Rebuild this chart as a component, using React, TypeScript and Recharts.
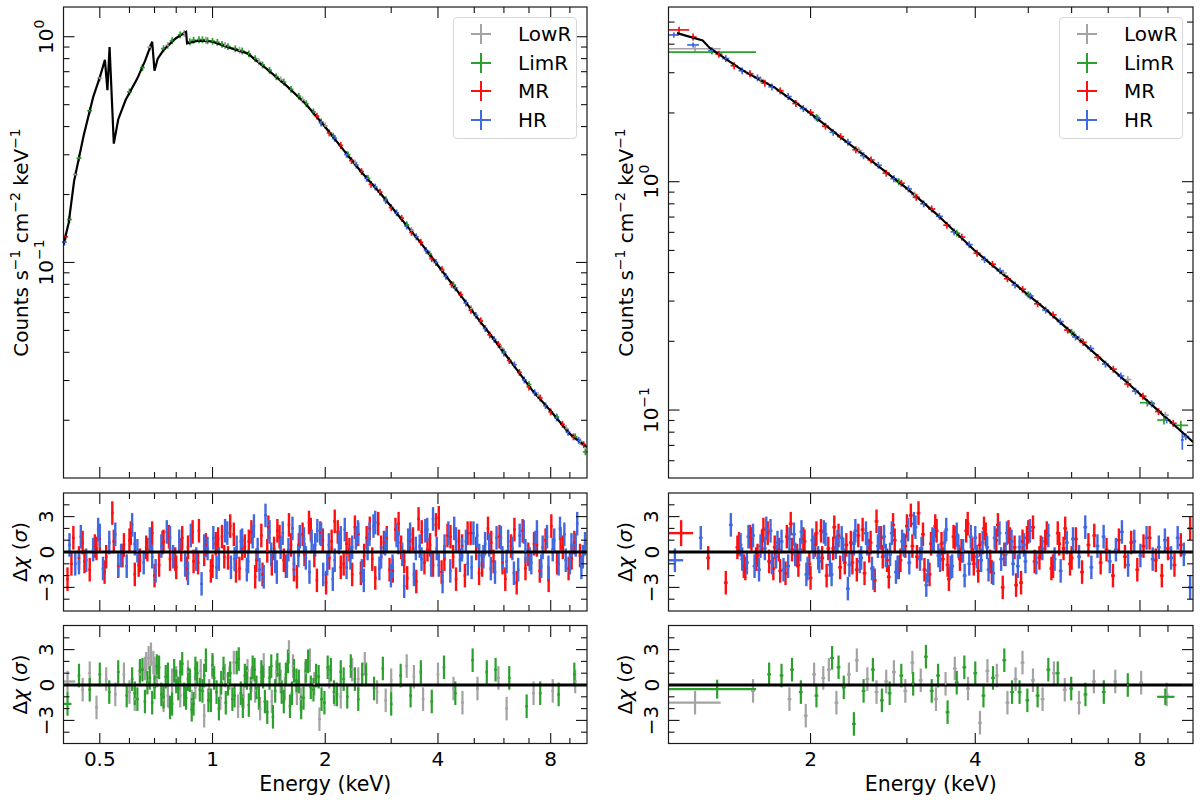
import React from "react";
import { ComposedChart, Scatter, Line, XAxis, YAxis, ErrorBar } from "recharts";

const GREY = "#a3a3a3";
const GREEN = "#2ca02c";
const RED = "#ff1010";
const BLUE = "#4169e1";
const FONT = "DejaVu Sans, Liberation Sans, sans-serif";

// ---------- model curves ----------
const leftModelE = [0.4, 0.402, 0.413, 0.427, 0.453, 0.48, 0.5, 0.516, 0.524, 0.531, 0.545, 0.56, 0.586, 0.63, 0.66, 0.69, 0.7, 0.714, 0.74, 0.795, 0.85, 0.855, 0.91, 0.95, 1.0, 1.12, 1.24, 1.39, 1.57, 1.77, 2.0, 2.22, 2.5, 2.81, 3.16, 3.56, 4.0, 4.5, 5.05, 5.68, 6.37, 7.16, 8.0, 9.0, 10.0];
const leftModelF = [0.12, 0.124, 0.15, 0.23, 0.366, 0.54, 0.66, 0.79, 0.58, 0.9, 0.336, 0.43, 0.524, 0.654, 0.78, 0.95, 0.707, 0.8, 0.873, 0.98, 1.05, 0.934, 0.957, 0.96, 0.95, 0.89, 0.844, 0.724, 0.61, 0.506, 0.398, 0.32, 0.251, 0.202, 0.159, 0.125, 0.097, 0.075, 0.058, 0.045, 0.035, 0.027, 0.022, 0.0174, 0.0152];

const rightModelE = [1.14, 1.27, 1.31, 1.5, 1.725, 2.0, 2.28, 2.62, 3.0, 3.39, 3.98, 4.6, 5.4, 6.4, 7.55, 8.6, 9.76, 10.0];
const rightModelF = [4.47, 4.15, 3.84, 3.08, 2.57, 1.99, 1.55, 1.204, 0.935, 0.725, 0.502, 0.376, 0.274, 0.19, 0.133, 0.1004, 0.0764, 0.0725];

// ---------- left spectrum points ----------
const ltGreenE = [0.415, 0.44, 0.47, 0.6, 0.65, 0.74, 0.78, 0.82, 0.87, 0.89, 0.92, 0.94, 0.97, 1.0, 1.03, 1.06, 1.1, 1.15, 1.2, 1.25, 1.3, 1.36, 1.42, 1.48, 1.55, 1.62, 1.7, 1.78, 1.86, 1.95, 2.1, 2.3, 2.6, 2.9, 3.3, 3.8, 4.4, 5.2, 6.0, 7.0, 8.3, 9.3, 9.9];
const ltGreenF = [0.155, 0.29, 0.47, 0.57, 0.73, 0.885, 0.96, 1.02, 0.95, 0.965, 0.97, 0.97, 0.96, 0.955, 0.945, 0.925, 0.905, 0.885, 0.865, 0.84, 0.8, 0.75, 0.71, 0.665, 0.63, 0.585, 0.545, 0.505, 0.465, 0.42, 0.363, 0.3, 0.236, 0.19, 0.147, 0.109, 0.0795, 0.0552, 0.0402, 0.0288, 0.0207, 0.0169, 0.0145];
const ltGreyE = [0.43, 0.5, 0.68, 0.76, 0.84, 0.96, 1.08, 1.18, 1.33, 1.52, 1.74, 2.0, 2.4, 2.8, 3.4, 4.1, 4.9, 5.9, 7.4, 8.8, 9.6];
const ltGreyF = [0.245, 0.655, 0.9, 0.915, 1.035, 0.965, 0.915, 0.872, 0.775, 0.645, 0.525, 0.403, 0.276, 0.205, 0.139, 0.0925, 0.0625, 0.0418, 0.0257, 0.0184, 0.0161];
const ltRedE = [0.405, 1.9, 2.05, 2.2, 2.35, 2.5, 2.65, 2.8, 3.0, 3.2, 3.4, 3.6, 3.85, 4.1, 4.35, 4.6, 4.9, 5.2, 5.5, 5.8, 6.2, 6.6, 7.0, 7.5, 8.0, 8.6, 9.2, 9.8];
const ltRedF = [0.13, 0.445, 0.375, 0.33, 0.283, 0.253, 0.222, 0.205, 0.175, 0.157, 0.136, 0.123, 0.104, 0.093, 0.08, 0.072, 0.0615, 0.055, 0.0478, 0.0434, 0.0368, 0.0326, 0.0281, 0.0251, 0.0218, 0.0192, 0.0169, 0.0156];
const ltBlueE = [0.402, 1.95, 2.12, 2.28, 2.42, 2.58, 2.72, 2.9, 3.1, 3.3, 3.5, 3.72, 3.95, 4.2, 4.45, 4.75, 5.05, 5.35, 5.65, 6.0, 6.4, 6.8, 7.25, 7.75, 8.3, 8.9, 9.5];
const ltBlueF = [0.123, 0.415, 0.355, 0.301, 0.27, 0.236, 0.216, 0.188, 0.166, 0.145, 0.13, 0.113, 0.1, 0.0868, 0.0772, 0.0662, 0.0583, 0.051, 0.0457, 0.0397, 0.0352, 0.0302, 0.0265, 0.0232, 0.0205, 0.0177, 0.0163];

// ---------- right spectrum points ----------
const rtRedE = [1.22, 1.36, 1.45, 1.55, 1.65, 1.76, 1.88, 2.0, 2.13, 2.27, 2.42, 2.58, 2.75, 2.93, 3.12, 3.33, 3.55, 3.78, 4.03, 4.3, 4.58, 4.88, 5.2, 5.55, 5.9, 6.3, 6.7, 7.15, 7.6, 8.1, 8.65, 9.2];
const rtRedF = [4.3, 3.62, 3.22, 2.97, 2.7, 2.5, 2.2, 2.01, 1.75, 1.575, 1.38, 1.245, 1.09, 0.985, 0.855, 0.76, 0.645, 0.572, 0.486, 0.435, 0.376, 0.338, 0.292, 0.261, 0.224, 0.198, 0.17, 0.151, 0.13, 0.115, 0.0985, 0.0875];
const rtBlueE = [1.32, 1.4, 1.5, 1.6, 1.7, 1.82, 1.94, 2.06, 2.2, 2.34, 2.5, 2.66, 2.84, 3.02, 3.22, 3.44, 3.66, 3.9, 4.16, 4.44, 4.73, 5.04, 5.38, 5.72, 6.1, 6.5, 6.92, 7.38, 7.85, 8.4, 8.95, 9.7];
const rtBlueF = [3.75, 3.46, 3.06, 2.85, 2.6, 2.36, 2.09, 1.89, 1.645, 1.49, 1.3, 1.18, 1.03, 0.93, 0.8, 0.705, 0.603, 0.53, 0.456, 0.407, 0.353, 0.316, 0.274, 0.244, 0.209, 0.186, 0.159, 0.141, 0.121, 0.1065, 0.0905, 0.0765];
const rtGreyE = [1.62, 2.45, 3.1, 4.5, 6.2, 7.6, 8.9];
const rtGreyF = [2.8, 1.37, 0.875, 0.398, 0.205, 0.136, 0.095];
const rtGreenE = [2.05, 2.9, 3.7, 5.0, 6.0];
const rtGreenF = [1.91, 1.0, 0.595, 0.32, 0.219];
const rtWide = [
  { c: "MR", x: 1.15, lo: 1.1, hi: 1.2, y: 4.62, err: 0.15 },
  { c: "HR", x: 1.125, lo: 1.1, hi: 1.15, y: 4.39, err: 0.12 },
  { c: "HR", x: 1.22, lo: 1.19, hi: 1.25, y: 3.97, err: 0.1 },
  { c: "LowR", x: 1.23, lo: 1.1, hi: 1.37, y: 3.82, err: 0.1 },
  { c: "LimR", x: 1.32, lo: 1.1, hi: 1.59, y: 3.69, err: 0.08 },
  { c: "LimR", x: 8.25, lo: 8.0, hi: 8.5, y: 0.1077, err: 0.004 },
  { c: "LimR", x: 8.85, lo: 8.6, hi: 9.1, y: 0.0904, err: 0.004 },
  { c: "LimR", x: 9.5, lo: 9.2, hi: 9.8, y: 0.0857, err: 0.004 },
  { c: "HR", x: 9.56, lo: 9.5, hi: 9.62, y: 0.074, err: 0.007 },
];

// ---------- residuals, MR / HR (left) ----------
const lmRedE = [0.41, 0.42, 0.44, 0.45, 0.47, 0.49, 0.5, 0.52, 0.54, 0.56, 0.58, 0.6, 0.62, 0.64, 0.67, 0.69, 0.72, 0.74, 0.77, 0.8, 0.83, 0.86, 0.89, 0.92, 0.95, 0.99, 1.02, 1.06, 1.1, 1.14, 1.18, 1.22, 1.27, 1.31, 1.36, 1.41, 1.46, 1.51, 1.57, 1.62, 1.68, 1.74, 1.81, 1.87, 1.94, 2.01, 2.08, 2.16, 2.24, 2.32, 2.4, 2.49, 2.58, 2.67, 2.77, 2.87, 2.97, 3.08, 3.19, 3.31, 3.43, 3.55, 3.68, 3.81, 3.95, 4.09, 4.24, 4.39, 4.55, 4.72, 4.89, 5.06, 5.25, 5.44, 5.63, 5.84, 6.05, 6.27, 6.49, 6.73, 6.97, 7.22, 7.48, 7.75, 8.03, 8.32, 8.62, 8.93, 9.25, 9.58];
const lmRedR = [-2.3, -1.0, -0.5, 0.8, -1.5, 0.3, 1.1, -0.4, 3.3, -1.2, 0.6, 1.0, -1.9, -0.7, 0.2, 1.6, -1.1, 0.9, -0.6, -1.3, 1.2, 0.4, -0.8, 1.8, -0.2, -1.6, 0.7, 1.3, -0.5, 1.5, -1.4, 0.5, 1.7, -0.7, -1.9, 2.1, 0.3, 1.3, -1.2, 0.6, -2.1, 1.5, 2.5, -0.3, 1.6, -2.6, 0.9, 1.7, -1.0, 0.2, 2.1, -1.8, 1.2, -0.6, 2.4, 0.8, -1.5, 1.9, 0.4, -2.2, 1.1, 2.8, -0.9, 0.6, 2.3, -1.7, 1.4, -0.4, 0.9, -2.0, 1.6, 0.3, -1.1, 2.0, -0.8, 1.3, -2.3, 0.5, -2.6, 1.8, -0.2, 0.7, -1.6, 1.0, 2.2, -0.9, 0.4, -1.4, 0.8, -0.3];
const lmRedE2 = [0.425, 0.455, 0.485, 0.515, 0.545, 0.575, 0.605, 0.635, 0.665, 0.7, 0.735, 0.765, 0.795, 0.825, 0.855, 0.885, 0.915, 0.96, 1.0, 1.035, 1.075, 1.115, 1.155, 1.2, 1.25, 1.3, 1.35, 1.4, 1.44, 1.49, 1.55, 1.6, 1.65, 1.7, 1.76, 1.83, 1.9, 1.97, 2.05, 2.12, 2.2, 2.28, 2.36, 2.45, 2.54, 2.63, 2.72, 2.82, 2.92, 3.03, 3.14, 3.25, 3.37, 3.5, 3.62, 3.75, 3.88, 4.02, 4.16, 4.32, 4.47, 4.64, 4.8, 5.15, 5.55, 5.95, 6.4, 6.85, 7.35, 7.9, 8.5, 9.1];
const lmRedR2 = [1.2, -0.8, 0.5, -1.7, 0.9, -0.3, 1.6, -1.1, 0.4, -2.0, 0.8, 1.3, -0.6, 0.2, -1.4, 1.7, -0.9, 0.6, -1.2, 1.1, -0.4, 2.2, -1.6, 0.3, 0.9, -2.1, 1.4, 0.1, -1.0, 1.8, -0.7, 2.3, -1.5, 0.6, -0.2, 1.9, -2.4, 1.0, -0.5, 2.6, -1.3, 0.7, -1.9, 1.5, -0.3, 2.0, -2.2, 0.4, 1.2, -1.6, 2.4, -0.8, 0.9, -2.5, 1.7, 0.2, -1.1, 2.9, -0.6, 1.3, -2.3, 0.5, 1.6, -1.8, 0.8, -0.9, 1.9, -1.4, 0.6, -2.4, 1.1, -0.5];
const lmBlueE = [0.415, 0.43, 0.445, 0.46, 0.48, 0.495, 0.51, 0.53, 0.55, 0.57, 0.59, 0.61, 0.63, 0.655, 0.68, 0.705, 0.73, 0.755, 0.785, 0.815, 0.845, 0.875, 0.905, 0.935, 0.97, 1.005, 1.04, 1.08, 1.12, 1.16, 1.2, 1.245, 1.29, 1.335, 1.385, 1.435, 1.485, 1.54, 1.595, 1.65, 1.71, 1.775, 1.84, 1.905, 1.975, 2.045, 2.12, 2.2, 2.28, 2.36, 2.445, 2.535, 2.625, 2.72, 2.82, 2.92, 3.025, 3.135, 3.25, 3.37, 3.49, 3.615, 3.745, 3.88, 4.02, 4.165, 4.315, 4.47, 4.635, 4.805, 4.975, 5.155, 5.345, 5.535, 5.735, 5.945, 6.16, 6.38, 6.61, 6.85, 7.1, 7.35, 7.615, 7.89, 8.175, 8.47, 8.775, 9.09, 9.415, 9.75];
const lmBlueR = [0.6, -1.0, 1.3, -0.7, 0.2, 1.9, -1.4, 0.8, 1.5, -0.3, -1.2, 2.3, 0.1, -0.9, 1.1, -1.6, 0.5, 1.7, -0.4, 0.9, -1.1, 1.4, -0.6, -2.7, 0.3, 1.2, -0.6, 1.8, -1.3, 0.4, 1.0, -0.8, 2.2, -1.5, 3.1, -0.2, -1.7, 1.6, 0.2, -1.0, 1.3, -0.5, 0.9, 1.8, -1.9, 0.6, -0.7, 1.2, -1.3, 0.4, 1.7, -2.4, 1.5, 2.5, -0.4, 1.0, -1.2, 0.8, -2.9, 1.5, 0.3, -0.6, 1.9, 2.8, -1.1, 0.5, -1.6, 1.1, 0.2, -1.0, 1.6, -0.3, 0.7, -1.4, 1.2, -0.5, 0.9, -1.8, 1.4, 0.1, -0.9, 1.7, 0.4, -1.3, 1.0, 2.0, -0.7, 0.6, 2.4, -0.4];
const lmBlueE2 = [0.44, 0.5, 0.56, 0.62, 0.69, 0.77, 0.86, 0.95, 1.025, 1.095, 1.145, 1.19, 1.235, 1.28, 1.32, 1.37, 1.42, 1.47, 1.52, 1.58, 1.635, 1.695, 1.755, 1.815, 1.88, 1.95, 2.025, 2.095, 2.175, 2.255, 2.335, 2.415, 2.505, 2.595, 2.69, 2.79, 2.89, 2.995, 3.1, 3.21, 3.33, 3.45, 3.575, 3.7, 3.835, 3.97, 4.115, 4.265, 4.42, 4.58, 4.75, 4.92, 5.09, 5.29, 5.48, 5.68, 5.89, 6.1, 6.32, 6.55, 6.78, 7.03, 7.28, 7.55, 7.82, 8.1, 8.4, 8.7, 9.0, 9.33, 9.66, 9.88];
const lmBlueR2 = [-0.9, 1.4, -1.1, 0.7, -0.4, 1.2, -1.8, 0.5, -1.3, 1.6, -0.6, 0.9, -1.5, 1.3, 0.2, -2.1, 1.7, -0.8, 0.4, -1.2, 2.0, -0.3, 1.1, -1.7, 0.6, 1.5, -1.0, -2.3, 0.8, 1.9, -0.5, 1.2, -1.6, 0.3, 2.2, -1.4, 0.7, -2.0, 1.4, -0.2, 1.0, -1.9, 0.5, 1.8, -1.1, 0.3, -2.5, 1.6, 2.0, -0.7, 0.9, -1.3, 1.4, -0.4, 0.6, -1.7, 1.2, -0.8, 0.3, -1.5, 1.7, -0.6, 0.8, -1.2, 1.3, 0.2, -1.0, 1.5, -0.9, 0.6, -1.3, 0.7];

// ---------- residuals, MR / HR (right) ----------
const rmRedE = [1.3, 1.4, 1.47, 1.51, 1.55, 1.59, 1.63, 1.67, 1.71, 1.75, 1.8, 1.84, 1.89, 1.94, 1.99, 2.04, 2.09, 2.14, 2.2, 2.25, 2.31, 2.37, 2.43, 2.49, 2.56, 2.62, 2.69, 2.76, 2.83, 2.9, 2.98, 3.05, 3.13, 3.21, 3.3, 3.38, 3.47, 3.56, 3.65, 3.75, 3.85, 3.95, 4.05, 4.15, 4.26, 4.37, 4.49, 4.6, 4.72, 4.85, 4.97, 5.1, 5.24, 5.37, 5.51, 5.66, 5.8, 5.96, 6.11, 6.27, 6.44, 6.6, 6.78, 6.95, 7.14, 7.32, 7.51, 7.71, 7.91, 8.12, 8.33, 8.55, 8.77, 9.0, 9.25, 9.5, 9.88];
const rmRedR = [-0.5, -2.6, 0.4, -1.2, 1.3, -0.6, 0.9, 1.6, -1.4, 0.2, -1.8, 2.4, -0.3, 1.1, -1.0, 0.6, 1.8, -2.0, 0.3, 1.4, -0.9, 0.8, -1.5, 1.9, 0.1, -2.4, 1.2, -0.7, 2.3, -1.3, 0.5, 3.1, -0.4, 1.5, -1.9, 2.2, 0.7, -1.1, 1.3, -0.6, 1.8, 0.2, -1.6, 2.0, -0.8, 1.0, -3.0, 1.7, 0.4, -2.6, 1.2, 2.1, -0.5, 0.9, -1.4, 1.6, 0.3, -1.0, 1.1, -1.7, 0.6, 1.4, -0.9, 0.2, -2.0, 1.0, -0.4, 0.8, -1.5, 0.5, 1.2, -0.7, -2.0, 0.3, -1.1, 0.6, 2.0];
const rmRedE2 = [1.48, 1.52, 1.56, 1.6, 1.64, 1.68, 1.72, 1.76, 1.81, 1.85, 1.9, 1.95, 2.0, 2.05, 2.1, 2.155, 2.21, 2.265, 2.325, 2.385, 2.445, 2.51, 2.575, 2.64, 2.71, 2.78, 2.85, 2.92, 3.0, 3.07, 3.15, 3.23, 3.32, 3.4, 3.49, 3.58, 3.675, 3.775, 3.875, 3.975, 4.075, 4.18, 4.29, 4.4, 4.52, 4.63, 4.75, 4.88, 5.0, 5.135, 5.27, 5.405, 5.55, 5.695, 5.84, 6.0];
const rmRedR2 = [0.7, -1.4, 1.1, -0.3, 1.9, -0.8, 0.4, -1.6, 1.3, 0.2, -1.1, 0.9, -2.2, 1.6, -0.5, 0.3, 2.1, -1.3, 0.6, -0.9, 1.4, -1.8, 0.8, 2.6, -0.4, -2.1, 1.0, -0.7, 2.2, 0.5, 3.3, -1.5, 0.7, 1.8, -0.6, -2.3, 1.2, 0.1, 2.4, -1.0, 0.6, 1.5, -1.7, 2.3, -0.2, 1.1, -2.8, 0.9, 1.7, -0.8, 0.4, 1.6, -1.2, 0.7, 2.0, -0.5];
const rmBlueE = [1.26, 1.43, 1.49, 1.53, 1.57, 1.61, 1.65, 1.69, 1.73, 1.77, 1.82, 1.865, 1.915, 1.965, 2.015, 2.065, 2.115, 2.17, 2.225, 2.28, 2.34, 2.4, 2.46, 2.525, 2.59, 2.655, 2.725, 2.795, 2.865, 2.94, 3.015, 3.09, 3.17, 3.255, 3.34, 3.425, 3.515, 3.605, 3.7, 3.8, 3.9, 4.0, 4.1, 4.205, 4.315, 4.43, 4.545, 4.66, 4.785, 4.91, 5.035, 5.17, 5.305, 5.44, 5.585, 5.73, 5.88, 6.035, 6.19, 6.355, 6.52, 6.69, 6.865, 7.045, 7.23, 7.415, 7.61, 7.81, 8.015, 8.225, 8.44, 8.66, 8.885, 9.12, 9.375, 9.62, 9.88];
const rmBlueR = [1.2, 2.3, 0.6, -0.9, 1.4, -1.5, 0.3, 1.8, -0.4, 0.9, -1.2, 1.5, 0.2, -1.9, 1.0, -0.5, 1.7, -1.1, 0.4, 1.2, -3.1, 0.7, -0.8, 1.6, -1.4, 0.5, 1.3, -0.2, -1.7, 0.9, 1.9, 2.4, -0.6, -2.8, 1.1, -0.3, 0.8, -1.3, 1.5, 0.1, -1.0, 1.2, -0.7, 0.4, -1.8, 1.6, -0.2, 0.9, -1.2, 0.6, 1.8, -0.9, 0.3, 1.4, -0.6, -1.6, 0.8, 1.1, -0.4, 2.1, -1.3, 0.5, 1.3, -0.8, 0.2, 1.7, -1.1, 0.9, -0.3, 1.2, -0.6, 0.4, 1.0, -0.5, 1.2, -0.2, -3.0];
const rmBlueE2 = [1.5, 1.54, 1.58, 1.62, 1.66, 1.7, 1.74, 1.785, 1.83, 1.875, 1.925, 1.975, 2.025, 2.075, 2.13, 2.185, 2.24, 2.295, 2.355, 2.415, 2.475, 2.54, 2.605, 2.67, 2.745, 2.815, 2.885, 2.96, 3.03, 3.11, 3.19, 3.28, 3.36, 3.45, 3.54, 3.63, 3.725, 3.825, 3.925, 4.025, 4.125, 4.23, 4.34, 4.46, 4.57, 4.69, 4.82, 4.94];
const rmBlueR2 = [-0.6, 1.3, -1.2, 0.5, 2.0, -0.9, 0.8, -1.5, 1.1, -0.2, 1.7, -1.4, 0.4, -0.8, 1.5, -1.9, 0.9, 0.2, -1.1, 1.8, -0.5, 0.7, -2.2, 1.2, -0.3, 1.6, -1.3, 0.6, -0.9, 2.1, 0.3, -1.6, 1.0, -0.7, 1.9, -1.2, 0.5, -2.0, 1.3, -0.4, 0.8, -1.5, 1.2, -0.6, 1.6, -1.0, 0.4, -0.8];
const rmWide = [
  { c: "MR", x: 1.16, lo: 1.1, hi: 1.22, y: 1.6, err: 1.1 },
  { c: "HR", x: 1.13, lo: 1.1, hi: 1.17, y: -0.7, err: 1.0 },
];

// ---------- residuals, LowR / LimR (left) ----------
const lbGreenE = [0.44, 0.47, 0.5, 0.53, 0.56, 0.59, 0.61, 0.63, 0.65, 0.67, 0.69, 0.71, 0.73, 0.75, 0.77, 0.79, 0.81, 0.83, 0.85, 0.87, 0.89, 0.91, 0.94, 0.96, 0.99, 1.01, 1.04, 1.07, 1.1, 1.13, 1.16, 1.19, 1.22, 1.25, 1.28, 1.31, 1.35, 1.38, 1.42, 1.45, 1.49, 1.53, 1.57, 1.61, 1.65, 1.7, 1.75, 1.8, 1.86, 1.92, 1.99, 2.07, 2.15, 2.24, 2.34, 2.45, 2.57, 2.7, 2.85, 3.0, 3.18, 3.38, 3.6, 3.85, 4.15, 4.45, 4.95, 5.4, 5.7, 6.2, 6.9, 7.5, 8.4, 9.25];
const lbGreenR = [0.8, -0.4, 0.9, -0.6, 1.1, -0.9, 0.5, -1.2, 1.3, 0.2, -1.5, 1.6, -0.8, 0.7, -1.9, 1.2, -0.3, 1.8, -1.1, 0.4, -1.6, 1.0, -0.5, 2.1, -1.3, 0.6, -2.0, 1.4, 0.1, -1.2, 1.9, -0.7, 0.8, -1.7, 1.5, -0.2, 1.1, -1.4, 0.6, -2.7, 1.7, -0.6, 0.9, -1.8, 1.2, 0.3, -1.1, 2.0, -0.4, 0.7, -1.5, 1.3, -0.8, 0.5, 1.6, -1.2, 0.9, -0.3, 1.4, -1.6, 0.8, -0.9, 1.1, -1.4, 1.5, -0.7, 2.1, 1.1, 1.3, 0.6, -1.8, -0.7, -0.8, 0.9];
const lbGreenE2 = [0.62, 0.64, 0.66, 0.68, 0.7, 0.72, 0.74, 0.76, 0.78, 0.8, 0.82, 0.84, 0.86, 0.88, 0.9, 0.925, 0.95, 0.975, 1.0, 1.025, 1.055, 1.085, 1.115, 1.145, 1.175, 1.205, 1.235, 1.265, 1.295, 1.33, 1.365, 1.4, 1.435, 1.47, 1.51, 1.55, 1.59, 1.63, 1.675, 1.725, 1.775, 1.83, 1.89, 1.955, 2.03, 2.11, 2.2, 2.29, 2.4, 2.51];
const lbGreenR2 = [-0.7, 1.2, -1.4, 0.6, -0.2, 1.5, -1.0, 0.9, -1.6, 0.3, 1.1, -0.8, 0.5, -2.1, 1.4, -0.4, 0.8, -1.3, 1.7, -0.6, 0.2, -1.5, 1.0, -0.9, 2.2, -1.8, 0.6, -0.3, 1.3, -1.1, 0.7, -2.3, 1.6, -0.5, 0.9, -1.4, 2.0, -0.7, 0.4, -1.9, 1.2, -0.2, 0.8, -1.2, 1.5, -0.6, 1.1, -1.0, 0.5, 0.9];
const lbGreyE = [0.45, 0.49, 0.52, 0.55, 0.58, 0.62, 0.66, 0.675, 0.685, 0.695, 0.71, 0.74, 0.78, 0.82, 0.86, 0.9, 0.95, 1.0, 1.05, 1.11, 1.17, 1.24, 1.3, 1.37, 1.44, 1.52, 1.6, 1.68, 1.77, 1.87, 1.93, 2.05, 2.2, 2.36, 2.55, 2.75, 3.0, 3.3, 3.65, 4.0, 4.4, 4.65, 5.1, 5.8, 6.1, 7.2, 8.1, 9.3];
const lbGreyR = [-0.4, -1.9, 0.5, -0.8, 0.9, -1.2, 1.4, 2.3, 2.6, 1.9, 0.8, -1.3, 0.4, -0.9, 1.1, -0.2, -2.6, 1.5, -1.1, 0.6, -1.8, 1.2, -0.5, 1.7, -1.4, 0.3, 2.8, -0.7, 1.0, 0.1, -2.9, 0.7, -1.0, 1.3, 1.8, -0.6, 0.4, 1.6, -1.2, 0.9, -0.3, -1.5, -0.3, 0.6, -2.0, -0.7, -0.5, 0.3];
const lbGreyE2 = [0.47, 0.6, 0.64, 0.665, 0.7, 0.76, 0.8, 0.88, 0.93, 0.98, 1.08, 1.14, 1.21, 1.27, 1.34, 1.48, 1.56, 1.64, 1.72, 1.82, 2.12, 2.45, 2.9, 3.45];
const lbGreyR2 = [1.0, -0.6, 0.9, 1.8, 1.4, -0.9, 0.6, -1.4, 1.2, -0.5, 0.8, 1.9, -1.0, 0.4, -2.0, 1.1, -0.3, 1.6, -1.2, 2.1, -0.8, 0.5, -1.3, 0.7];
const lbWide = [
  { c: "LowR", x: 0.41, lo: 0.4, hi: 0.43, y: 0.3, err: 0.9 },
  { c: "LimR", x: 0.41, lo: 0.4, hi: 0.42, y: -1.6, err: 1.0 },
];

// ---------- residuals, LowR / LimR (right) ----------
const rbGreenE = [1.68, 1.77, 1.85, 1.92, 2.05, 2.19, 2.25, 2.3, 2.4, 2.5, 2.6, 2.7, 2.79, 2.93, 3.08, 3.25, 3.33, 3.42, 3.56, 3.7, 3.82, 4.0, 4.14, 4.31, 4.52, 4.67, 4.82, 4.98, 5.2, 5.44, 5.66, 5.99, 6.36, 6.87, 7.6];
const rbGreenR = [0.9, 0.8, 1.3, -0.6, -0.9, 2.3, 1.5, -0.2, -3.3, -0.5, 1.3, -1.3, -0.7, 0.8, 0.1, 2.4, -0.5, 0.8, -2.3, 0.2, 1.5, 1.0, -0.9, 0.6, 2.1, -0.6, -0.6, -1.3, -0.9, 1.3, 1.0, -0.3, -0.8, -0.6, 0.0];
const rbGreyE = [1.57, 1.83, 1.96, 2.03, 2.11, 2.16, 2.23, 2.35, 2.43, 2.54, 2.64, 2.75, 2.84, 2.98, 3.07, 3.18, 3.39, 3.53, 3.67, 3.88, 4.08, 4.21, 4.38, 4.58, 4.74, 4.88, 5.1, 5.31, 5.57, 5.83, 6.19, 6.59, 7.21, 8.04, 8.95];
const rbGreyR = [-0.5, -1.2, -2.6, 0.9, 0.6, 1.3, -1.5, 0.9, 2.1, 0.5, -0.6, 0.3, 1.1, -0.5, 1.9, 0.4, -1.2, 0.1, 1.4, -0.3, -3.2, 1.2, 0.8, -1.5, 0.5, 1.9, 0.4, -1.2, 1.0, -0.4, -1.5, 0.3, 0.3, 0.2, -0.8];
const rbWide = [
  { c: "LowR", x: 1.23, lo: 1.1, hi: 1.37, y: -1.5, err: 1.0 },
  { c: "LimR", x: 1.35, lo: 1.1, hi: 1.59, y: -0.35, err: 0.8 },
  { c: "LimR", x: 8.9, lo: 8.6, hi: 9.25, y: -1.0, err: 0.7 },
];

// ---------- ticks ----------
const leftXTicks = [0.5, 0.6, 0.7, 0.8, 0.9, 1, 2, 3, 4, 5, 6, 7, 8, 9];
const leftXMajors = [0.5, 1, 2, 4, 8];
const rightXTicks = [2, 3, 4, 5, 6, 7, 8, 9];
const rightXMajors = [2, 4, 8];
const leftYTicks = [0.02, 0.03, 0.04, 0.05, 0.06, 0.07, 0.08, 0.09, 0.1, 0.2, 0.3, 0.4, 0.5, 0.6, 0.7, 0.8, 0.9, 1];
const rightYTicks = [0.06, 0.07, 0.08, 0.09, 0.1, 0.2, 0.3, 0.4, 0.5, 0.6, 0.7, 0.8, 0.9, 1, 2, 3, 4, 5];
const logMajors = [0.1, 1];
const resTicks = [-4, -3, -2, -1, 0, 1, 2, 3, 4];
const resMajors = [-3, 0, 3];

type Pt = { x: number; y: number; ex: number | number[]; ey: number | number[] };
type Wide = { c: string; x: number; lo: number; hi: number; y: number; err: number };

const specPts = (xs: number[], ys: number[]): Pt[] =>
  xs.map((x, i) => ({ x, y: ys[i], ex: x * 0.015, ey: ys[i] * 0.035 }));
const resPts = (xs: number[], rs: number[]): Pt[] =>
  xs.map((x, i) => ({ x, y: rs[i], ex: x * 0.008, ey: 1 }));
const widePts = (rows: Wide[], c: string): Pt[] =>
  rows.filter((r) => r.c === c).map((r) => ({ x: r.x, y: r.y, ex: [r.x - r.lo, r.hi - r.x], ey: r.err }));
const curve = (xs: number[], ys: number[]) => xs.map((x, i) => ({ x, y: ys[i] }));

type Series = { data: Pt[]; color: string; sw: number };

const PAD = 7;
const XH = 34;

type PanelProps = {
  colX: number; plotX: number; plotY: number; w: number; h: number;
  xDomain: [number, number]; xTicks: number[]; xMajors: number[]; xLabels: boolean;
  yDomain: [number, number]; yLog: boolean; yTicks: number[]; yMajors: number[];
  series: Series[]; model?: { x: number; y: number }[]; zero?: boolean;
};

const supLabel = (v: number) => {
  if (v === 1) return <>10<tspan dy={-9} fontSize={14}>0</tspan></>;
  if (v === 0.1) return <>10<tspan dy={-9} fontSize={14}>−1</tspan></>;
  return v < 0 ? `−${-v}` : String(v);
};

function Panel(p: PanelProps) {
  const yw = p.plotX - p.colX;
  const top = PAD;
  const bottom = PAD + p.h;
  const left = yw;
  const right = yw + p.w;

  const xTick = (t: any) => {
    const v = t.payload.value;
    const major = p.xMajors.includes(v);
    const L = major ? 11 : 6;
    const x = t.x;
    return (
      <g>
        <line x1={x} x2={x} y1={bottom} y2={bottom - L} stroke="#111" strokeWidth={1.1} />
        <line x1={x} x2={x} y1={top} y2={top + L} stroke="#111" strokeWidth={1.1} />
        {p.xLabels && major ? (
          <text x={x} y={bottom + 21.5} textAnchor="middle" fontSize={20} fontFamily={FONT} fill="#000">
            {String(v)}
          </text>
        ) : null}
      </g>
    );
  };

  const yTick = (t: any) => {
    const v = t.payload.value;
    const major = p.yMajors.includes(v);
    const L = major ? 11 : 6;
    const y = t.y;
    const bx = left - 10;
    return (
      <g>
        <line x1={left} x2={left + L} y1={y} y2={y} stroke="#111" strokeWidth={1.1} />
        <line x1={right} x2={right - L} y1={y} y2={y} stroke="#111" strokeWidth={1.1} />
        {major ? (
          <text x={bx} y={y} transform={`rotate(-90 ${bx} ${y})`} textAnchor="middle" fontSize={20} fontFamily={FONT} fill="#000">
            {supLabel(v)}
          </text>
        ) : null}
      </g>
    );
  };

  const zeroLine = [
    { x: p.xDomain[0], y: 0 },
    { x: p.xDomain[1], y: 0 },
  ];

  return (
    <div style={{ position: "absolute", left: p.colX, top: p.plotY - PAD }}>
      <ComposedChart
        width={yw + p.w + 12}
        height={PAD + p.h + XH}
        margin={{ top: PAD, right: 12, bottom: 0, left: 0 }}
      >
        <XAxis
          type="number"
          dataKey="x"
          scale="log"
          domain={p.xDomain}
          allowDataOverflow
          ticks={p.xTicks}
          interval={0}
          tick={xTick}
          tickLine={false}
          axisLine={false}
          tickSize={0}
          tickMargin={0}
          height={XH}
        />
        <YAxis
          type="number"
          dataKey="y"
          scale={p.yLog ? "log" : "linear"}
          domain={p.yDomain}
          allowDataOverflow
          ticks={p.yTicks}
          interval={0}
          tick={yTick}
          tickLine={false}
          axisLine={false}
          tickSize={0}
          tickMargin={0}
          width={yw}
        />
        {p.series.map((s, i) => (
          <Scatter
            key={i}
            data={s.data}
            fill={s.color}
            isAnimationActive={false}
            shape={(sp: any) => <circle cx={sp.cx} cy={sp.cy} r={1.1} fill={s.color} />}
          >
            <ErrorBar dataKey="ey" direction="y" width={0} stroke={s.color} strokeWidth={s.sw} isAnimationActive={false} />
            <ErrorBar dataKey="ex" direction="x" width={0} stroke={s.color} strokeWidth={s.sw} isAnimationActive={false} />
          </Scatter>
        ))}
        {p.model ? (
          <Line data={p.model} dataKey="y" type="linear" stroke="#000" strokeWidth={2.2} dot={false} activeDot={false} isAnimationActive={false} />
        ) : null}
        {p.zero ? (
          <Line data={zeroLine} dataKey="y" type="linear" stroke="#000" strokeWidth={2.8} dot={false} activeDot={false} isAnimationActive={false} />
        ) : null}
      </ComposedChart>
    </div>
  );
}

const legendItems = [
  { label: "LowR", color: GREY },
  { label: "LimR", color: GREEN },
  { label: "MR", color: RED },
  { label: "HR", color: BLUE },
];

function Legend({ left, top }: { left: number; top: number }) {
  return (
    <div
      style={{
        position: "absolute",
        left,
        top,
        width: 124,
        height: 122,
        border: "1px solid #d8d8d8",
        borderRadius: 4,
        background: "rgba(255,255,255,0.85)",
        boxSizing: "border-box",
        fontFamily: FONT,
        fontSize: 20,
      }}
    >
      {legendItems.map((it, i) => (
        <div key={it.label} style={{ position: "absolute", left: 0, top: 3 + i * 28.7, height: 26, width: 124 }}>
          <svg width={26} height={26} style={{ position: "absolute", left: 14, top: 0 }}>
            <line x1={3} x2={23} y1={13} y2={13} stroke={it.color} strokeWidth={2} />
            <line x1={13} x2={13} y1={3} y2={23} stroke={it.color} strokeWidth={2} />
          </svg>
          <span style={{ position: "absolute", left: 64, top: 0, lineHeight: "26px", color: "#000" }}>{it.label}</span>
        </div>
      ))}
    </div>
  );
}

const L = { colX: 0, plotX: 63.5, w: 523.5 };
const R = { colX: 600, plotX: 668.5, w: 524.5 };
const TOP = { y: 7, h: 471 };
const MID = { y: 493, h: 118 };
const BOT = { y: 625.5, h: 118 };

function CountsLabel({ x, y }: { x: number; y: number }) {
  return (
    <text transform={`translate(${x} ${y}) rotate(-90)`} textAnchor="middle" fontSize={20} fontFamily={FONT} fill="#000">
      Counts s<tspan dy={-8} fontSize={14}>−1</tspan>
      <tspan dy={8}> cm</tspan>
      <tspan dy={-8} fontSize={14}>−2</tspan>
      <tspan dy={8}> keV</tspan>
      <tspan dy={-8} fontSize={14}>−1</tspan>
    </text>
  );
}

function ResLabel({ x, y }: { x: number; y: number }) {
  return (
    <text transform={`translate(${x} ${y}) rotate(-90)`} textAnchor="middle" fontSize={20} fontFamily={FONT} fill="#000">
      Δ<tspan fontStyle="italic">χ</tspan> (<tspan fontStyle="italic">σ</tspan>)
    </text>
  );
}

export default function App() {
  const leftTop: Series[] = [
    { data: specPts(ltGreyE, ltGreyF), color: GREY, sw: 1.7 },
    { data: specPts(ltGreenE, ltGreenF), color: GREEN, sw: 1.7 },
    { data: specPts(ltRedE, ltRedF), color: RED, sw: 1.7 },
    { data: specPts(ltBlueE, ltBlueF), color: BLUE, sw: 1.7 },
  ];
  const rightTop: Series[] = [
    { data: [...specPts(rtGreyE, rtGreyF), ...widePts(rtWide, "LowR")], color: GREY, sw: 1.7 },
    { data: [...specPts(rtGreenE, rtGreenF), ...widePts(rtWide, "LimR")], color: GREEN, sw: 1.7 },
    { data: [...specPts(rtRedE, rtRedF), ...widePts(rtWide, "MR")], color: RED, sw: 1.7 },
    { data: [...specPts(rtBlueE, rtBlueF), ...widePts(rtWide, "HR")], color: BLUE, sw: 1.7 },
  ];
  const leftMid: Series[] = [
    { data: [...resPts(lmRedE, lmRedR), ...resPts(lmRedE2, lmRedR2)], color: RED, sw: 2.4 },
    { data: [...resPts(lmBlueE, lmBlueR), ...resPts(lmBlueE2, lmBlueR2)], color: BLUE, sw: 2.4 },
  ];
  const rightMid: Series[] = [
    { data: [...resPts(rmRedE, rmRedR), ...resPts(rmRedE2, rmRedR2), ...widePts(rmWide, "MR")], color: RED, sw: 2.4 },
    { data: [...resPts(rmBlueE, rmBlueR), ...resPts(rmBlueE2, rmBlueR2), ...widePts(rmWide, "HR")], color: BLUE, sw: 2.4 },
  ];
  const leftBot: Series[] = [
    { data: [...resPts(lbGreyE, lbGreyR), ...resPts(lbGreyE2, lbGreyR2), ...widePts(lbWide, "LowR")], color: GREY, sw: 2.2 },
    { data: [...resPts(lbGreenE, lbGreenR), ...resPts(lbGreenE2, lbGreenR2), ...widePts(lbWide, "LimR")], color: GREEN, sw: 2.2 },
  ];
  const rightBot: Series[] = [
    { data: [...resPts(rbGreyE, rbGreyR), ...widePts(rbWide, "LowR")], color: GREY, sw: 2.2 },
    { data: [...resPts(rbGreenE, rbGreenR), ...widePts(rbWide, "LimR")], color: GREEN, sw: 2.2 },
  ];

  const leftX = { xDomain: [0.4, 10] as [number, number], xTicks: leftXTicks, xMajors: leftXMajors };
  const rightX = { xDomain: [1.1, 10] as [number, number], xTicks: rightXTicks, xMajors: rightXMajors };
  const res = { yDomain: [-5, 5] as [number, number], yLog: false, yTicks: resTicks, yMajors: resMajors, zero: true };

  const frames = [
    [L, TOP], [L, MID], [L, BOT], [R, TOP], [R, MID], [R, BOT],
  ] as const;

  return (
    <div style={{ position: "absolute", left: 0, top: 0, width: 1200, height: 802, background: "#fff", fontFamily: FONT }}>
      <Panel colX={L.colX} plotX={L.plotX} w={L.w} plotY={TOP.y} h={TOP.h} {...leftX} xLabels={false}
        yDomain={[0.0111, 1.354]} yLog yTicks={leftYTicks} yMajors={logMajors}
        series={leftTop} model={curve(leftModelE, leftModelF)} />
      <Panel colX={L.colX} plotX={L.plotX} w={L.w} plotY={MID.y} h={MID.h} {...leftX} xLabels={false} {...res} series={leftMid} />
      <Panel colX={L.colX} plotX={L.plotX} w={L.w} plotY={BOT.y} h={BOT.h} {...leftX} xLabels {...res} series={leftBot} />

      <Panel colX={R.colX} plotX={R.plotX} w={R.w} plotY={TOP.y} h={TOP.h} {...rightX} xLabels={false}
        yDomain={[0.0504, 5.82]} yLog yTicks={rightYTicks} yMajors={logMajors}
        series={rightTop} model={curve(rightModelE, rightModelF)} />
      <Panel colX={R.colX} plotX={R.plotX} w={R.w} plotY={MID.y} h={MID.h} {...rightX} xLabels={false} {...res} series={rightMid} />
      <Panel colX={R.colX} plotX={R.plotX} w={R.w} plotY={BOT.y} h={BOT.h} {...rightX} xLabels {...res} series={rightBot} />

      <svg width={1200} height={802} style={{ position: "absolute", left: 0, top: 0, pointerEvents: "none" }}>
        {frames.map(([c, r], i) => (
          <rect key={i} x={c.plotX} y={r.y} width={c.w} height={r.h} fill="none" stroke="#1a1a1a" strokeWidth={1.2} />
        ))}
        <CountsLabel x={L.plotX - 36} y={TOP.y + TOP.h / 2} />
        <CountsLabel x={R.plotX - 36} y={TOP.y + TOP.h / 2} />
        <ResLabel x={L.plotX - 37} y={MID.y + MID.h / 2} />
        <ResLabel x={L.plotX - 37} y={BOT.y + BOT.h / 2} />
        <ResLabel x={R.plotX - 37} y={MID.y + MID.h / 2} />
        <ResLabel x={R.plotX - 37} y={BOT.y + BOT.h / 2} />
        <text x={L.plotX + L.w / 2} y={791} textAnchor="middle" fontSize={20.5} fontFamily={FONT}>Energy (keV)</text>
        <text x={R.plotX + R.w / 2} y={791} textAnchor="middle" fontSize={20.5} fontFamily={FONT}>Energy (keV)</text>
      </svg>

      <Legend left={453} top={17} />
      <Legend left={1059} top={17} />
    </div>
  );
}
